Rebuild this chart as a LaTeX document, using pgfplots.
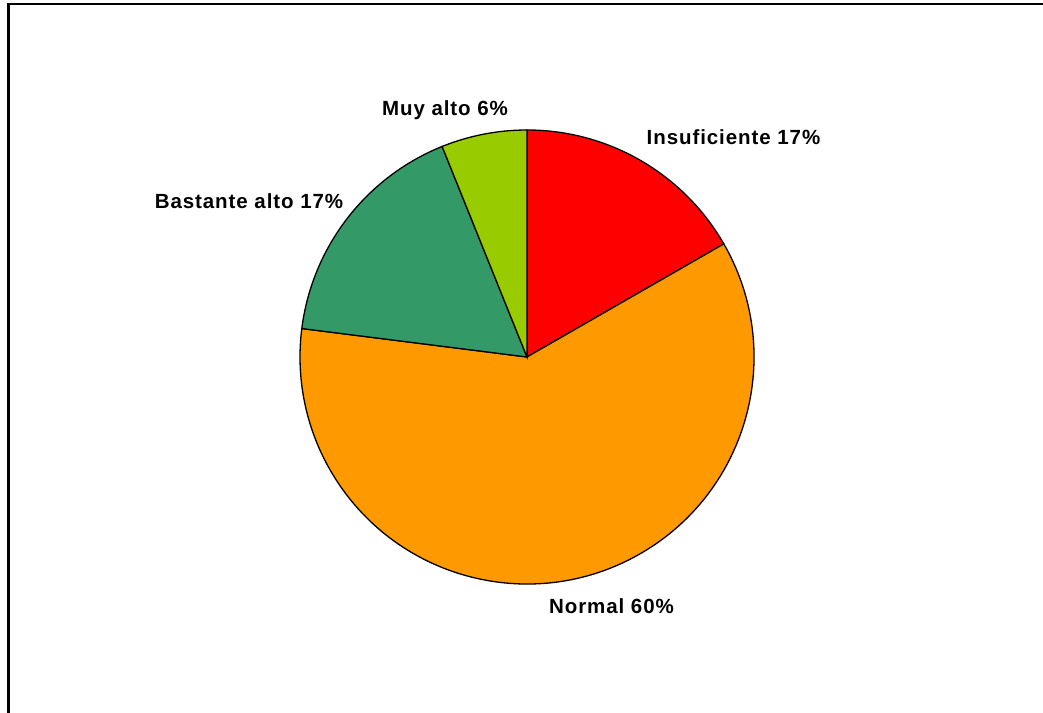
\documentclass[border=0pt]{standalone}
\usepackage{pgfplots}
\pgfplotsset{compat=1.18}
\usepackage{fontspec}
\setmainfont{Liberation Sans}
\definecolor{cIns}{HTML}{FF0000}
\definecolor{cNor}{HTML}{FF9900}
\definecolor{cBas}{HTML}{339966}
\definecolor{cMuy}{HTML}{99CC00}
% shares (percent), clockwise from 12 o'clock
\def\vIns{16.7}
\def\vNor{60.3}
\def\vBas{16.9}
\def\vMuy{6.1}
\pgfmathsetmacro{\aA}{90}
\pgfmathsetmacro{\aB}{\aA-3.6*\vIns}
\pgfmathsetmacro{\aC}{\aB-3.6*\vNor}
\pgfmathsetmacro{\aD}{\aC-3.6*\vBas}
\pgfmathsetmacro{\aE}{\aD-3.6*\vMuy}
\def\R{227}
\newcommand{\lbl}{\fontsize{20.5}{24}\selectfont\bfseries\addfontfeature{LetterSpace=4.5}}
\begin{document}
\begin{tikzpicture}
\begin{axis}[name=ax, hide axis, x=1pt, y=1pt, xmin=0, xmax=1043, ymin=0, ymax=712,
  scale only axis, clip=false]
\addplot[draw=none] coordinates {(527,355)};
\draw[line width=2.5pt] (axis cs:8.7,-20) -- (axis cs:8.7,708) -- (axis cs:1060,708);
\filldraw[fill=cIns, draw=black, line width=1.3pt] (axis cs:527,355) -- ++(\aA:\R pt) arc[start angle=\aA, end angle=\aB, radius=\R pt] -- cycle;
\filldraw[fill=cNor, draw=black, line width=1.3pt] (axis cs:527,355) -- ++(\aB:\R pt) arc[start angle=\aB, end angle=\aC, radius=\R pt] -- cycle;
\filldraw[fill=cBas, draw=black, line width=1.3pt] (axis cs:527,355) -- ++(\aC:\R pt) arc[start angle=\aC, end angle=\aD, radius=\R pt] -- cycle;
\filldraw[fill=cMuy, draw=black, line width=1.3pt] (axis cs:527,355) -- ++(\aD:\R pt) arc[start angle=\aD, end angle=\aE, radius=\R pt] -- cycle;
\node[anchor=base, font=\lbl] at (axis cs:445,596) {Muy alto 6\%};
\node[anchor=base, font=\lbl] at (axis cs:733.5,567.7) {Insuficiente 17\%};
\node[anchor=base, font=\lbl] at (axis cs:249,503.7) {Bastante alto 17\%};
\node[anchor=base, font=\lbl] at (axis cs:611.5,99) {Normal 60\%};
\end{axis}
\pgfresetboundingbox
\path[use as bounding box] (ax.south west) rectangle (ax.north east);
\end{tikzpicture}
\end{document}
